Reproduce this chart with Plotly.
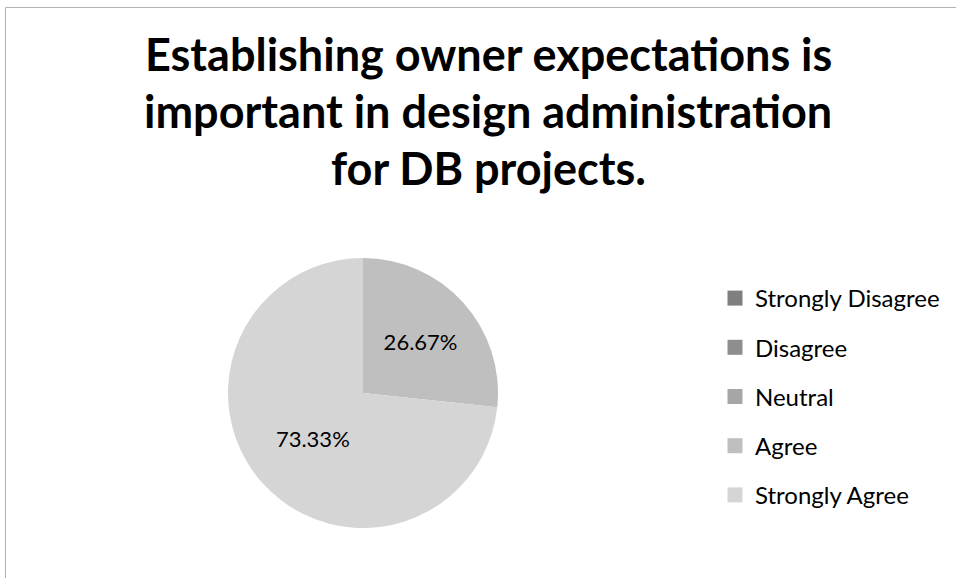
import plotly.graph_objects as go

# Survey responses (share of respondents)
categories = ["Strongly Disagree", "Disagree", "Neutral", "Agree", "Strongly Agree"]
shares = [0.0, 0.0, 0.0, 26.67, 73.33]
colors = ["#7f7f7f", "#8e8e8e", "#a6a6a6", "#bfbfbf", "#d5d5d5"]
title_lines = [
    "Establishing owner expectations is",
    "important in design administration",
    "for DB projects.",
]

W, H = 956, 578
FONT = "Lato"

def px_x(x):
    return x / W

def px_y(y):
    return 1 - y / H

# Percent labels only for slices that have a value
slice_text = [f"{v:.2f}%" if v > 0 else "" for v in shares]

fig = go.Figure()
fig.add_trace(go.Pie(
    labels=categories,
    values=shares,
    sort=False,
    direction="clockwise",
    rotation=0,
    marker=dict(colors=colors, line=dict(width=0)),
    text=slice_text,
    textinfo="text",
    textposition="inside",
    insidetextorientation="horizontal",
    textfont=dict(family=FONT, size=22, color="#000000"),
    showlegend=False,
    domain=dict(x=[px_x(363 - 135), px_x(363 + 135)],
                y=[px_y(393 + 135), px_y(393 - 135)]),
    hoverinfo="label+percent",
))

# Legend entries, one group per category so they can be spaced apart
for i, (cat, col) in enumerate(zip(categories, colors)):
    fig.add_trace(go.Scatter(
        x=[None], y=[None], mode="markers", name=cat,
        marker=dict(symbol="square", size=15, color=col),
        legendgroup=f"g{i}", showlegend=True,
    ))

title_y = [73, 130, 187]
for line, yb in zip(title_lines, title_y):
    fig.add_annotation(
        text=f"<b>{line}</b>", xref="paper", yref="paper",
        x=px_x(488), y=px_y(yb + 10), xanchor="center", yanchor="bottom",
        showarrow=False,
        font=dict(family=FONT, size=45, color="#000000"),
    )

# Chart-area frame
fig.add_shape(type="rect", xref="paper", yref="paper",
              x0=px_x(5.5), x1=px_x(990), y0=px_y(7.5), y1=px_y(620),
              line=dict(color="#b3b3b3", width=1), fillcolor="rgba(0,0,0,0)")

fig.update_layout(
    width=W, height=H,
    margin=dict(l=0, r=0, t=0, b=0),
    paper_bgcolor="#ffffff", plot_bgcolor="#ffffff",
    xaxis=dict(visible=False), yaxis=dict(visible=False),
    showlegend=True,
    legend=dict(
        x=px_x(715), y=px_y(276), xanchor="left", yanchor="top",
        font=dict(family=FONT, size=24, color="#000000"),
        tracegroupgap=15, itemwidth=30,
        bgcolor="rgba(0,0,0,0)",
    ),
)

fig.write_html("out.html")
